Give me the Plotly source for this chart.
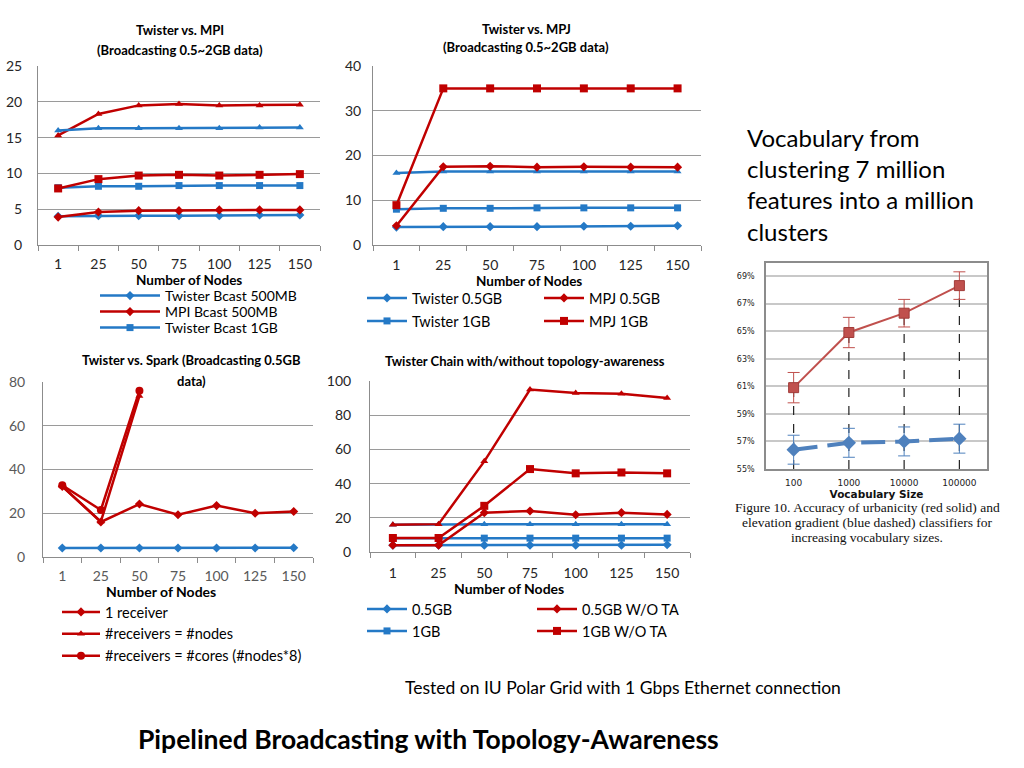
import plotly.graph_objects as go

W, H = 1024, 768

# ---------------- data ----------------
nodes = ["1", "25", "50", "75", "100", "125", "150"]

# Panel 1: Twister vs. MPI
mpi_tw_500 = [4.0, 4.1, 4.1, 4.1, 4.1, 4.2, 4.2]
mpi_mpi_500 = [3.9, 4.6, 4.8, 4.8, 4.9, 4.9, 4.9]
mpi_tw_1g = [8.0, 8.2, 8.2, 8.3, 8.3, 8.3, 8.3]
mpi_mpi_1g = [7.9, 9.2, 9.7, 9.8, 9.7, 9.8, 9.9]
mpi_tw_2g = [16.0, 16.3, 16.3, 16.3, 16.3, 16.4, 16.4]
mpi_mpi_2g = [15.3, 18.3, 19.5, 19.7, 19.5, 19.5, 19.6]

# Panel 2: Twister vs. MPJ
mpj_tw_05 = [4.0, 4.1, 4.1, 4.1, 4.2, 4.2, 4.3]
mpj_mpj_05 = [4.3, 17.5, 17.6, 17.4, 17.5, 17.4, 17.4]
mpj_tw_1g = [8.0, 8.2, 8.2, 8.3, 8.3, 8.3, 8.3]
mpj_mpj_1g = [8.9, 35.0, 35.0, 35.0, 35.0, 35.0, 35.0]
mpj_tw_2g = [16.1, 16.4, 16.4, 16.4, 16.4, 16.4, 16.4]

# Panel 3: Twister vs. Spark
spark_twister = [4.1, 4.1, 4.1, 4.1, 4.1, 4.1, 4.2]
spark_1recv = [32.3, 16.0, 24.2, 19.3, 23.5, 20.0, 20.8]
spark_nodes = [32.3, 16.2, 73.6]
spark_cores = [32.8, 21.5, 76.0]

# Panel 4: Twister Chain with/without topology-awareness
chain_05 = [4.0, 4.0, 4.0, 4.0, 4.0, 4.0, 4.2]
chain_05_nota = [4.0, 4.0, 23.0, 24.0, 21.8, 23.0, 22.0]
chain_1g = [8.1, 8.1, 8.1, 8.1, 8.1, 8.1, 8.1]
chain_1g_nota = [8.2, 8.2, 27.0, 48.5, 46.0, 46.5, 46.0]
chain_2g = [16.0, 16.3, 16.3, 16.3, 16.3, 16.3, 16.3]
chain_2g_nota = [16.0, 16.3, 53.0, 95.0, 93.0, 92.5, 90.0]

# Panel 5: accuracy vs vocabulary size
vocab = ["100", "1000", "10000", "100000"]
urban_acc = [60.9, 64.9, 66.3, 68.3]
urban_err = [1.1, 1.1, 1.0, 1.0]
elev_acc = [56.4, 56.9, 57.0, 57.2]
elev_err = [1.05, 1.05, 1.05, 1.05]
pct_ticks = [55, 57, 59, 61, 63, 65, 67, 69]

# ---------------- style ----------------
BLUE = "#2479C6"
RED = "#C00000"
FONT = "Lato"
GRID = "#9A9A9A"

def px_x(p):
    return p / W

def px_y(p):
    return 1 - p / H

fig = go.Figure()

def add(x, y, name, color, symbol, xa, ya, legend=None, show=False, size=7):
    fig.add_trace(go.Scatter(
        x=x, y=y, name=name, mode="lines+markers",
        line=dict(color=color, width=2.5),
        marker=dict(symbol=symbol, size=size, color=color),
        xaxis=xa, yaxis=ya, showlegend=show,
        legend=legend if legend else "legend",
    ))

# Panel 1
add(nodes, mpi_mpi_2g, "MPI Bcast 2GB", RED, "triangle-up", "x", "y")
add(nodes, mpi_tw_2g, "Twister Bcast 2GB", BLUE, "triangle-up", "x", "y")
add(nodes, mpi_tw_1g, "Twister Bcast 1GB", BLUE, "square", "x", "y", "legend3", True)
add(nodes, mpi_mpi_1g, "MPI Bcast 1GB", RED, "square", "x", "y", size=8)
add(nodes, mpi_tw_500, "Twister Bcast 500MB", BLUE, "diamond", "x", "y", "legend", True)
add(nodes, mpi_mpi_500, "MPI Bcast 500MB", RED, "diamond", "x", "y", "legend2", True)

# Panel 2
add(nodes, mpj_tw_2g, "Twister 2GB", BLUE, "triangle-up", "x2", "y2")
add(nodes, mpj_tw_05, "Twister 0.5GB", BLUE, "diamond", "x2", "y2", "legend4", True)
add(nodes, mpj_tw_1g, "Twister 1GB", BLUE, "square", "x2", "y2", "legend5", True)
add(nodes, mpj_mpj_05, "MPJ 0.5GB", RED, "diamond", "x2", "y2", "legend6", True)
add(nodes, mpj_mpj_1g, "MPJ 1GB", RED, "square", "x2", "y2", "legend7", True, size=8)

# Panel 3
add(nodes, spark_twister, "Twister", BLUE, "diamond", "x3", "y3")
add(nodes, spark_1recv, "1 receiver", RED, "diamond", "x3", "y3", "legend8", True)
add(nodes[:3], spark_nodes, "#receivers = #nodes", RED, "triangle-up", "x3", "y3", "legend8", True)
add(nodes[:3], spark_cores, "#receivers = #cores (#nodes*8)", RED, "circle", "x3", "y3", "legend8", True, size=8)

# Panel 4
add(nodes, chain_2g, "2GB", BLUE, "triangle-up", "x4", "y4")
add(nodes, chain_1g, "1GB", BLUE, "square", "x4", "y4", "legend10", True)
add(nodes, chain_05, "0.5GB", BLUE, "diamond", "x4", "y4", "legend9", True)
add(nodes, chain_2g_nota, "2GB W/O TA", RED, "triangle-up", "x4", "y4")
add(nodes, chain_1g_nota, "1GB W/O TA", RED, "square", "x4", "y4", "legend12", True, size=8)
add(nodes, chain_05_nota, "0.5GB W/O TA", RED, "diamond", "x4", "y4", "legend11", True)

# Panel 5: drop lines, then series
for v, a in zip(vocab, urban_acc):
    fig.add_trace(go.Scatter(
        x=[v, v], y=[pct_ticks[0], a], mode="lines",
        line=dict(color="#222222", width=1.2, dash="dash"),
        xaxis="x5", yaxis="y5", showlegend=False, hoverinfo="skip"))
fig.add_trace(go.Scatter(
    x=vocab, y=urban_acc, name="urbanicity", mode="lines+markers",
    line=dict(color="#C0504D", width=2),
    marker=dict(symbol="square", size=10, color="#C0504D", line=dict(color="#A03B38", width=1)),
    error_y=dict(type="data", array=urban_err, color="#C0504D", thickness=1, width=6),
    xaxis="x5", yaxis="y5", showlegend=False))
fig.add_trace(go.Scatter(
    x=vocab, y=elev_acc, name="elevation gradient", mode="lines+markers",
    line=dict(color="#4F81BD", width=4, dash="24px,10px"),
    marker=dict(symbol="diamond", size=11, color="#4F81BD"),
    error_y=dict(type="data", array=elev_err, color="#4F81BD", thickness=1, width=6),
    xaxis="x5", yaxis="y5", showlegend=False))

# ---------------- axes ----------------
def xcat(dom, anchor, tickcolor="#262626", standoff=8):
    return dict(domain=dom, anchor=anchor, type="category", range=[-0.5, 6.5],
                automargin=False,
                showgrid=False, showline=True, linecolor="#8C8C8C", linewidth=1,
                ticks="outside", tickson="boundaries", ticklen=5, tickcolor="#8C8C8C",
                tickfont=dict(family=FONT, size=14, color=tickcolor),
                ticklabelstandoff=standoff, zeroline=False)

def ylin(dom, anchor, rng, dtick, standoff, tickcolor="#262626"):
    return dict(domain=dom, anchor=anchor, range=rng, dtick=dtick,
                automargin=False,
                showgrid=True, gridcolor=GRID, gridwidth=1,
                showline=True, linecolor="#8C8C8C", linewidth=1,
                ticks="", zeroline=False, ticklabelstandoff=standoff,
                tickfont=dict(family=FONT, size=14, color=tickcolor))

layout = dict(
    width=W, height=H, margin=dict(l=0, r=0, t=0, b=0, autoexpand=False),
    paper_bgcolor="white", plot_bgcolor="white",
    xaxis=xcat([px_x(38), px_x(320)], "y", standoff=6),
    yaxis=ylin([px_y(245), px_y(66)], "x", [0, 25], 5, 12),
    xaxis2=xcat([px_x(373), px_x(701)], "y2", standoff=7),
    yaxis2=ylin([px_y(245), px_y(66)], "x2", [0, 40], 10, 8),
    xaxis3=xcat([px_x(43), px_x(313)], "y3", "#595959", 6),
    yaxis3=ylin([px_y(557), px_y(382)], "x3", [0, 80], 20, 14, "#595959"),
    xaxis4=xcat([px_x(370), px_x(690)], "y4"),
    yaxis4=ylin([px_y(552), px_y(381)], "x4", [0, 100], 20, 15),
    xaxis5=dict(domain=[px_x(766), px_x(987)], anchor="y5", type="category",
                automargin=False,
                range=[-0.5, 3.5], showgrid=False, showline=True, mirror=True,
                linecolor="#8C8C8C", linewidth=1.5, ticks="", zeroline=False,
                tickfont=dict(family="DejaVu Sans", size=9, color="#222"),
                ticklabelstandoff=4,
                title=dict(text="<b>Vocabulary Size</b>", font=dict(family="DejaVu Sans", size=10.5, color="#111"),
                           standoff=0)),
    yaxis5=dict(domain=[px_y(469), px_y(263)], anchor="x5", range=[55, 69.94],
                automargin=False,
                tickvals=pct_ticks, ticktext=[f"{v}%" for v in pct_ticks],
                showgrid=True, gridcolor="#C8C8C8", gridwidth=1.5,
                showline=True, mirror=True, linecolor="#8C8C8C", linewidth=1.5,
                ticks="", zeroline=False, ticklabelstandoff=8,
                tickfont=dict(family="DejaVu Sans", size=8, color="#222")),
)

def leg(xp, yp, iw=40, yanchor="middle", size=14.5):
    return dict(x=px_x(xp), y=px_y(yp), xanchor="left", yanchor=yanchor,
                font=dict(family=FONT, size=size, color="#000"),
                bgcolor="rgba(0,0,0,0)", itemwidth=iw, tracegroupgap=0,
                traceorder="normal", itemclick=False, itemdoubleclick=False)

layout["legend"] = leg(95, 296, 60, size=14)
layout["legend2"] = leg(95, 312, 60, size=14)
layout["legend3"] = leg(95, 328, 60, size=14)
layout["legend4"] = leg(362, 298)
layout["legend5"] = leg(362, 321)
layout["legend6"] = leg(539, 298)
layout["legend7"] = leg(539, 321)
layout["legend8"] = leg(57, 596, 38, "top")
layout["legend9"] = leg(362, 609)
layout["legend10"] = leg(362, 631)
layout["legend11"] = leg(532, 609)
layout["legend12"] = leg(532, 631)

fig.update_layout(**layout)

# ---------------- annotations ----------------
def ann(text, xp, yp, size, bold=False, family=FONT, color="#000", xanchor="center", align="center"):
    fig.add_annotation(text=f"<b>{text}</b>" if bold else text, x=px_x(xp), y=px_y(yp),
                       xref="paper", yref="paper", showarrow=False, xanchor=xanchor,
                       yanchor="middle", align=align,
                       font=dict(family=family, size=size, color=color))

# chart titles
ann("Twister vs. MPI", 180, 30, 13, True)
ann("(Broadcasting 0.5~2GB data)", 180, 50, 13, True)
ann("Twister vs. MPJ", 526, 29, 13, True)
ann("(Broadcasting 0.5~2GB data)", 526, 47, 13, True)
ann("Twister vs. Spark (Broadcasting 0.5GB", 191, 360, 13, True)
ann("data)", 191, 381, 13, True)
ann("Twister Chain with/without topology-awareness", 525, 361, 13, True)
# x-axis titles
ann("Number of Nodes", 189, 280, 13.5, True)
ann("Number of Nodes", 529, 281, 13.5, True)
ann("Number of Nodes", 161, 591, 14, True)
ann("Number of Nodes", 509, 588, 14, True)
# side text
ann("Vocabulary from<br>clustering 7 million<br>features into a million<br>clusters",
    745, 184, 24, False, xanchor="left", align="left")
ann("Figure 10. Accuracy of urbanicity (red solid) and", 867, 507, 13.5, family="Liberation Serif", color="#111")
ann("elevation gradient (blue dashed) classifiers for", 867, 522, 13.5, family="Liberation Serif", color="#111")
ann("increasing vocabulary sizes.", 867, 537, 13.5, family="Liberation Serif", color="#111")
ann("Tested on IU Polar Grid with 1 Gbps Ethernet connection", 623, 687, 17.5)
ann("Pipelined Broadcasting with Topology-Awareness", 428, 739, 26.5, True)

fig.write_html("out.html", config={"displayModeBar": False},
               post_script="document.body.style.margin='0px';")
